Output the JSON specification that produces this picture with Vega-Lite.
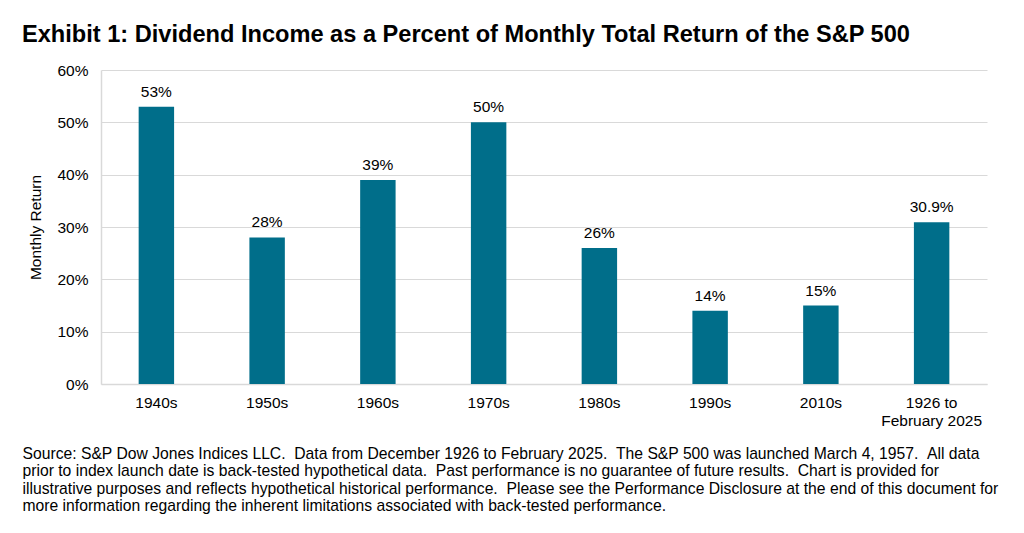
{
  "$schema": "https://vega.github.io/schema/vega-lite/v6.json",
  "width": 886,
  "height": 314,
  "autosize": {"type": "none"},
  "padding": {"left": 101, "top": 70, "right": 37, "bottom": 149},
  "background": "white",
  "config": {
    "font": "Liberation Sans",
    "view": {"stroke": null}
  },
  "title": {
    "text": "Exhibit 1: Dividend Income as a Percent of Monthly Total Return of the S&P 500",
    "anchor": "start",
    "frame": "group",
    "dx": -79,
    "offset": 16,
    "fontSize": 23.6,
    "fontWeight": "bold",
    "color": "#000000",
    "font": "Liberation Sans"
  },
  "data": {
    "values": [
      {"period": "1940s", "value": 0.53, "label": "53%"},
      {"period": "1950s", "value": 0.28, "label": "28%"},
      {"period": "1960s", "value": 0.39, "label": "39%"},
      {"period": "1970s", "value": 0.50, "label": "50%"},
      {"period": "1980s", "value": 0.26, "label": "26%"},
      {"period": "1990s", "value": 0.14, "label": "14%"},
      {"period": "2010s", "value": 0.15, "label": "15%"},
      {"period": "1926 to February 2025", "value": 0.309, "label": "30.9%"}
    ]
  },
  "encoding": {
    "x": {
      "field": "period",
      "type": "nominal",
      "sort": null,
      "scale": {"paddingInner": 0.68, "paddingOuter": 0.34},
      "axis": {
        "labelAngle": 0,
        "labelFontSize": 15.5,
        "labelColor": "#000000",
        "labelPadding": 11,
        "labelLineHeight": 18.5,
        "labelExpr": "datum.value == '1926 to February 2025' ? ['1926 to', 'February 2025'] : datum.label",
        "ticks": false,
        "domainColor": "#D9D9D9",
        "domainWidth": 1.5,
        "title": [
          "Source: S&P Dow Jones Indices LLC. \u00a0Data from December 1926 to February 2025. \u00a0The S&P 500 was launched March 4, 1957. \u00a0All data",
          "prior to index launch date is back-tested hypothetical data. \u00a0Past performance is no guarantee of future results. \u00a0Chart is provided for",
          "illustrative purposes and reflects hypothetical historical performance. \u00a0Please see the Performance Disclosure at the end of this document for",
          "more information regarding the inherent limitations associated with back-tested performance."
        ],
        "titleFontSize": 15.7,
        "titleFontWeight": "normal",
        "titleColor": "#000000",
        "titleAlign": "left",
        "titleAnchor": "start",
        "titleBaseline": "top",
        "titleLineHeight": 17.5,
        "titleX": -79,
        "titleY": 62
      }
    },
    "y": {
      "field": "value",
      "type": "quantitative",
      "scale": {"domain": [0, 0.6]},
      "axis": {
        "format": ".0%",
        "values": [0, 0.1, 0.2, 0.3, 0.4, 0.5, 0.6],
        "labelFontSize": 15.5,
        "labelColor": "#000000",
        "labelPadding": 13,
        "ticks": false,
        "domain": true,
        "domainColor": "#D9D9D9",
        "domainWidth": 1.5,
        "gridColor": "#D9D9D9",
        "gridWidth": 1.2,
        "title": "Monthly Return",
        "titleFontSize": 15.5,
        "titleFontWeight": "normal",
        "titleColor": "#000000",
        "titlePadding": 13
      }
    }
  },
  "layer": [
    {"mark": {"type": "bar", "color": "#006E8A"}},
    {
      "mark": {"type": "text", "baseline": "bottom", "dy": -7, "fontSize": 15.5, "color": "#000000"},
      "encoding": {"text": {"field": "label"}}
    }
  ]
}
